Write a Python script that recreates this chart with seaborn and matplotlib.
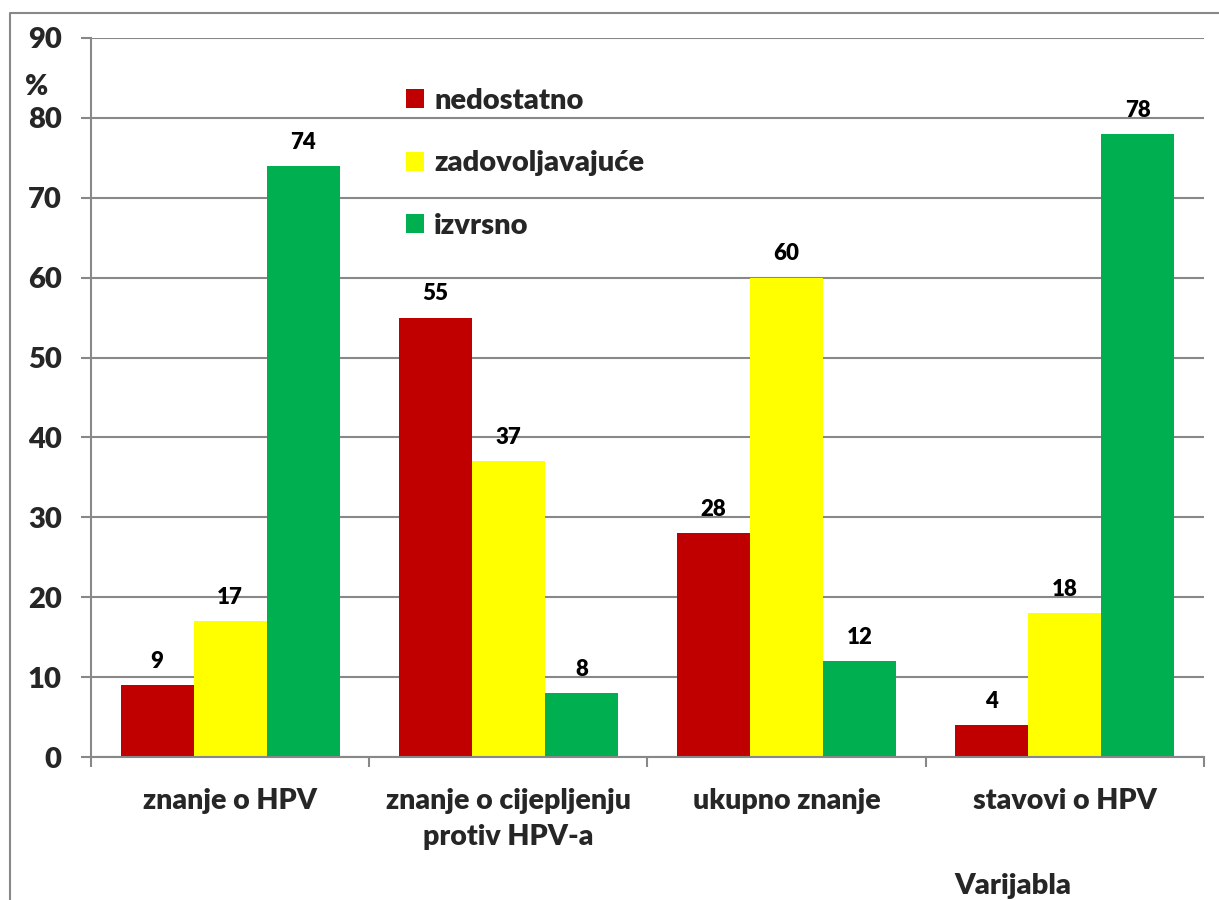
import matplotlib

matplotlib.use("Agg")
import matplotlib.pyplot as plt
from matplotlib.lines import Line2D
from matplotlib.patches import Patch
import pandas as pd
import seaborn as sns

categories = ["znanje o HPV", "znanje o cijepljenju\nprotiv HPV-a", "ukupno znanje", "stavovi o HPV"]
levels = ["nedostatno", "zadovoljavajuće", "izvrsno"]
nedostatno = [9, 55, 28, 4]
zadovoljavajuce = [17, 37, 60, 18]
izvrsno = [74, 8, 12, 78]
colors = ["#C00000", "#FFFF00", "#00B050"]

frame = pd.DataFrame(
    {
        "category": categories * 3,
        "level": [levels[0]] * 4 + [levels[1]] * 4 + [levels[2]] * 4,
        "value": nedostatno + zadovoljavajuce + izvrsno,
    }
)

sns.set_theme(style="white")
plt.rcParams["font.family"] = ["Lato", "DejaVu Sans"]
weight = "heavy"
plt.rcParams["font.weight"] = weight
grey = "#888888"

fig = plt.figure(figsize=(12.19, 9), dpi=100)
ax = fig.add_axes([91 / 1219, 143 / 900, 1113 / 1219, 719 / 900])

sns.barplot(
    data=frame, x="category", y="value", hue="level", order=categories, hue_order=levels,
    palette=colors, width=0.787, gap=0, saturation=1, legend=False, ax=ax, linewidth=0,
)

for container in ax.containers:
    ax.bar_label(container, padding=9.5, fontsize=16, fontweight=weight, color="black")

ax.set_ylim(0, 90)
ax.set_xlim(-0.5, 3.5)
ax.set_yticks(range(0, 91, 10))
ax.yaxis.grid(True, color=grey, linewidth=1.5)
ax.set_axisbelow(True)
ax.tick_params(axis="y", length=7, width=1.5, color=grey, pad=14, labelsize=21, left=True)
for label in ax.get_yticklabels():
    label.set_fontweight(weight)

ax.set_xticks([-0.5, 0.5, 1.5, 2.5, 3.5])
ax.set_xticklabels([])
ax.set_xticks(range(len(categories)), minor=True)
ax.set_xticklabels(categories, minor=True, fontsize=20.5, fontweight=weight, linespacing=1.5, va="top")
ax.tick_params(axis="x", which="major", length=7, width=1.5, color=grey, bottom=True)
ax.tick_params(axis="x", which="minor", length=0, pad=22)

ax.set_xlabel("")
ax.set_ylabel("")
for side in ["top", "right"]:
    ax.spines[side].set_visible(False)
for side in ["left", "bottom"]:
    ax.spines[side].set_color(grey)
    ax.spines[side].set_linewidth(1.5)

handles = [Patch(facecolor=c, edgecolor="none") for c in colors]
fig.legend(
    handles, levels, loc="upper left", bbox_to_anchor=(406 / 1219, 1 - 88 / 900),
    frameon=False, handlelength=0.62, handleheight=0.62, handletextpad=0.35,
    labelspacing=1.25, borderpad=0, borderaxespad=0, prop={"weight": weight, "size": 21},
)

fig.text(37 / 1219, 1 - 87 / 900, "%", ha="center", va="center", fontsize=20, fontweight=weight)
fig.text(1013 / 1219, 1 - 886 / 900, "Varijabla", ha="center", va="center", fontsize=21, fontweight=weight)

frame_x = 10 / 1219
frame_y = 1 - 13 / 900
fig.add_artist(Line2D([frame_x, frame_x, 1], [0, frame_y, frame_y], transform=fig.transFigure, color=grey, linewidth=1.5))

fig.savefig("out.png", dpi=100)
